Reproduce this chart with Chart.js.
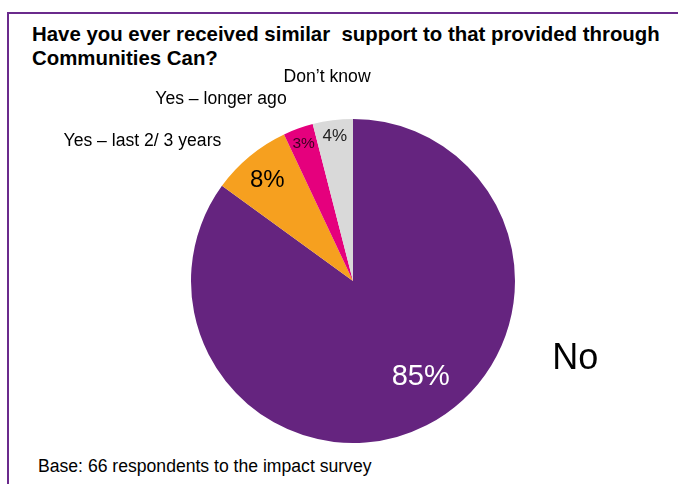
<!DOCTYPE html>
<html>
<head>
<meta charset="utf-8">
<script src="https://cdn.jsdelivr.net/npm/chart.js@4/dist/chart.umd.min.js"></script>
<style>
  html, body { margin: 0; padding: 0; background: #fff; }
  #wrap { position: relative; width: 678px; height: 484px; overflow: hidden; font-family: "Liberation Sans", Arial, sans-serif; }
  #frame { position: absolute; left: 7px; top: 12px; width: 700px; height: 500px; border-left: 2px solid #6a2a8c; border-top: 2px solid #6a2a8c; }
  #title { position: absolute; left: 32px; top: 22px; font-size: 20.4px; font-weight: bold; line-height: 24px; color: #000; white-space: pre; }
  #base { position: absolute; left: 38px; top: 456px; font-size: 17.6px; color: #000; }
  canvas { position: absolute; left: 0; top: 0; }
</style>
</head>
<body>
<div id="wrap">
  <div id="frame"></div>
  <div id="title">Have you ever received similar  support to that provided through
Communities Can?</div>
  <div id="base">Base: 66 respondents to the impact survey</div>
  <canvas id="pie" width="678" height="484"></canvas>
</div>
<script>
// Survey answers, clockwise from 12 o'clock
const categories = ['No', 'Yes \u2013 last 2/ 3 years', 'Yes \u2013 longer ago', 'Don\u2019t know'];
const shares = [85, 8, 3, 4];
const colors = ['#65247f', '#f6a01f', '#e5007d', '#d9d9d9'];

// label styling per slice: value label (radius factor, nudge, font, colour)
const valueStyle = [
  { f: 0.73, dx: 14, dy: -9, size: 29, color: '#fff' },
  { f: 0.83, dx: 0, dy: 3, size: 24, color: '#000' },
  { f: 0.90, dx: 0, dy: 0, size: 15.5, color: '#3a0020' },
  { f: 0.90, dx: 0, dy: 0, size: 17, color: '#222' },
];
// category label anchor, offset from pie centre in radii
const nameStyle = [
  { x: 1.23, y: 0.48, align: 'left', size: 36 },
  { x: -1.30, y: -0.865, align: 'center', size: 17.6 },
  { x: -0.815, y: -1.12, align: 'center', size: 17.6 },
  { x: -0.16, y: -1.26, align: 'center', size: 17.6 },
];

const sliceLabels = {
  id: 'sliceLabels',
  afterDatasetsDraw(chart) {
    const ctx = chart.ctx;
    const meta = chart.getDatasetMeta(0);
    ctx.save();
    ctx.textBaseline = 'middle';
    meta.data.forEach((arc, i) => {
      const { x, y, startAngle, endAngle, outerRadius: r } = arc.getProps(['x', 'y', 'startAngle', 'endAngle', 'outerRadius'], true);
      const mid = (startAngle + endAngle) / 2;
      const v = valueStyle[i];
      ctx.font = v.size + 'px "Liberation Sans", Arial, sans-serif';
      ctx.fillStyle = v.color;
      ctx.textAlign = 'center';
      ctx.fillText(shares[i] + '%', x + Math.cos(mid) * r * v.f + v.dx, y + Math.sin(mid) * r * v.f + v.dy);

      const n = nameStyle[i];
      ctx.font = n.size + 'px "Liberation Sans", Arial, sans-serif';
      ctx.fillStyle = '#000';
      ctx.textAlign = n.align;
      ctx.fillText(categories[i], x + n.x * r, y + n.y * r);
    });
    ctx.restore();
  }
};

new Chart(document.getElementById('pie'), {
  type: 'pie',
  data: {
    labels: categories,
    datasets: [{ data: shares, backgroundColor: colors, borderWidth: 0 }]
  },
  options: {
    responsive: false,
    animation: false,
    layout: { padding: { left: 191, right: 163, top: 119, bottom: 41 } },
    plugins: { legend: { display: false }, tooltip: { enabled: false } }
  },
  plugins: [sliceLabels]
});
</script>
</body>
</html>
